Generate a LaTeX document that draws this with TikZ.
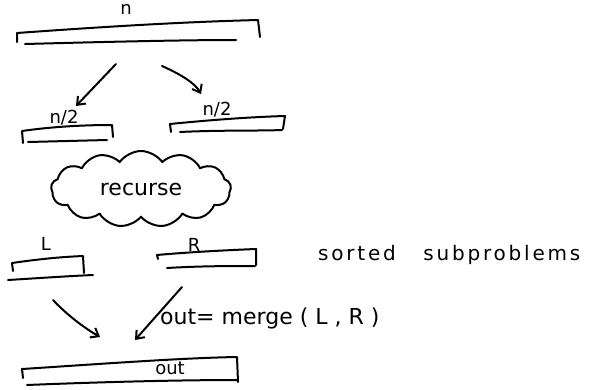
\documentclass[tikz,border=0pt]{standalone}
\usepackage{fontspec}
\setmainfont{DejaVu Sans}
\usetikzlibrary{shapes.symbols,arrows.meta}
\begin{document}
\begin{tikzpicture}[x=1pt,y=-1pt,
  ink/.style={line width=2pt,line cap=round,line join=round,draw=black},
  arr/.style={ink,-{Straight Barb[length=7pt,width=11pt,line width=2pt]}},
  lbl/.style={inner sep=0pt,font=\fontsize{18}{18}\selectfont},
  cloudbox/.style={ink,cloud,cloud puffs=13,cloud puff arc=110,aspect=2.4,minimum width=180pt,minimum height=76pt}]
\useasboundingbox (0,0) rectangle (596,389);
% top bar n
\draw[ink] (17,42) -- (17,33) .. controls (100,27) and (180,22) .. (258,20) -- (260,37);
\draw[ink] (25,44) .. controls (100,42) and (180,40) .. (236,40);
\node[lbl] (n) at (126,9) {n};
\coordinate (t1) at (116,64);
\coordinate (t2) at (162,66);
% left half
\draw[ink] (23,143) -- (22,131) .. controls (50,127) and (80,125) .. (112,125) -- (113,137);
\draw[ink] (28,142) -- (107,140);
\node[lbl] (nl) at (64,118) {n/2};
% right half
\draw[ink] (171,132) -- (170,124) .. controls (210,120) and (250,117) .. (285,116) -- (283,129);
\draw[ink] (180,132) .. controls (220,130) and (260,131) .. (282,130);
\node[lbl] (nr) at (217,110) {n/2};
\coordinate (h1) at (76,106);
\coordinate (h2) at (201,94);
\draw[arr] (t1) -- (h1);
\draw[arr] (t2) .. controls (180,74) and (195,83) .. (h2);
% cloud
\node[cloudbox,font=\fontsize{22}{22}\selectfont] (rec) at (141,189) {recurse};
% L bar
\draw[ink] (13,271) -- (12,263) .. controls (40,259) and (60,257) .. (83,256) -- (84,273);
\draw[ink] (8,280) .. controls (40,278) and (70,276) .. (93,275);
\node[lbl] (L) at (46,244) {L};
% R bar
\draw[ink] (158,259) -- (157,255) .. controls (190,252) and (230,250) .. (256,249) -- (256,265);
\draw[ink] (167,268) .. controls (200,266) and (230,266) .. (255,266);
\node[lbl] (R) at (194,245) {R};
\node[lbl,anchor=west,font=\fontsize{20}{20}\selectfont\addfontfeature{LetterSpace=14}] (sorted) at (318,255) {sorted\ \ \ subproblems};
% arrows to out
\coordinate (a1) at (53,300);
\coordinate (a2) at (100,337);
\coordinate (b1) at (182,287);
\coordinate (b2) at (135,340);
\draw[arr] (a1) .. controls (70,318) and (88,330) .. (a2);
\draw[arr] (b1) -- (b2);
\node[lbl,anchor=west,font=\fontsize{22}{22}\selectfont] (merge) at (160,318) {out= merge ( L , R )};
% out bar
\draw[ink] (23,378) -- (22,369) .. controls (100,364) and (180,358) .. (237,357) -- (238,382);
\draw[ink] (27,385) .. controls (100,382) and (180,380) .. (238,380);
\node[lbl] (out) at (170,368) {out};
\end{tikzpicture}
\end{document}
